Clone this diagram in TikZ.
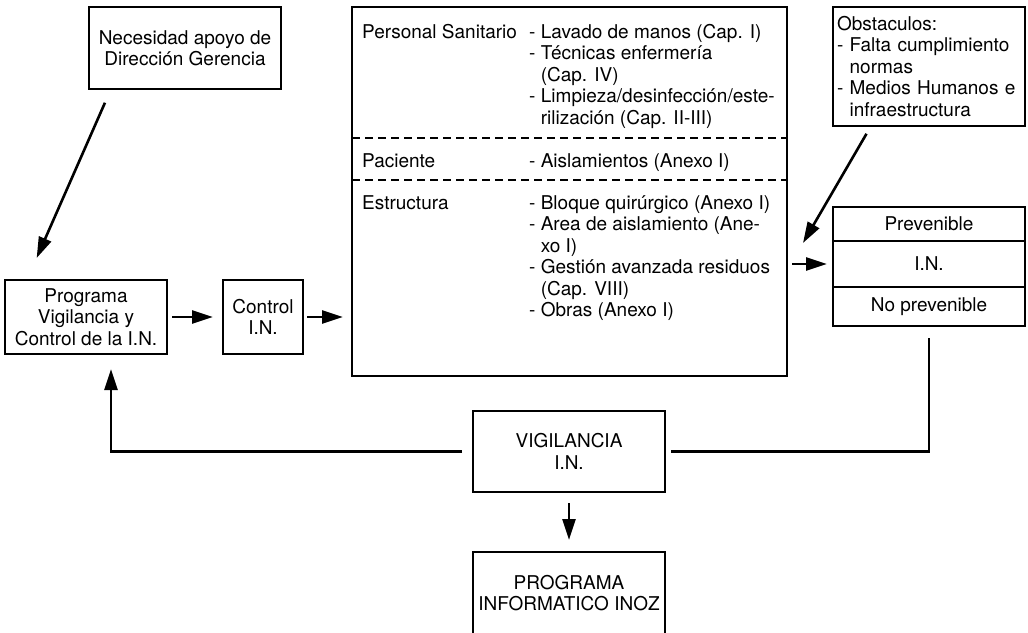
\documentclass[tikz,border=0pt]{standalone}
\usepackage{fontspec}
\setmainfont{TeX Gyre Heros}
\usetikzlibrary{positioning,calc,arrows.meta}
\newcommand\sangria{\hphantom{- }}
\begin{document}
\begin{tikzpicture}[x=1pt,y=-1pt,
    caja/.style={draw,line width=1.2pt,inner sep=0pt,outer sep=0pt,align=center,font=\fontsize{19}{21.5}\selectfont},
    texto/.style={inner sep=0pt,align=left,anchor=north west,font=\fontsize{19}{21.5}\selectfont},
    flecha/.style={line width=2.6pt,-{Triangle[length=21pt,width=13pt]}},
    linea/.style={line width=2.6pt}]
    \useasboundingbox (0,0) rectangle (1028,632);
    \clip (0,0) rectangle (1028,632);
    % cajas
    \node[caja,minimum width=192pt,minimum height=82pt] (necesidad) at (185,48) {Necesidad apoyo de\\Dirección Gerencia};
    \node[caja,minimum width=162pt,minimum height=74pt] (programa) at (86,317) {Programa\\Vigilancia y\\Control de la I.N.};
    \node[caja,minimum width=80pt,minimum height=74pt] (control) at (263,317) {Control\\I.N.};
    \node[caja,minimum width=435pt,minimum height=369pt] (medidas) at (569.5,191.5) {};
    \node[caja,text width=184pt,align=left,inner sep=4pt,minimum height=119pt] (obstaculos) at (929,66.5)
        {Obstaculos:\\- Falta cumplimiento\\\sangria normas\\- Medios Humanos e\\\sangria infraestructura};
    \node[caja,minimum width=192pt,minimum height=34pt,anchor=north] (prevenible) at (929,207) {Prevenible};
    \node[caja,minimum width=192pt,minimum height=46pt,below=0pt of prevenible] (in) {I.N.};
    \node[caja,minimum width=192pt,minimum height=39pt,below=0pt of in] (noprev) {No prevenible};
    \node[caja,minimum width=192pt,minimum height=81pt] (vigilancia) at (569,451.5) {VIGILANCIA\\I.N.};
    \node[caja,minimum width=192pt,minimum height=82pt,anchor=north] (inoz) at (569,552) {PROGRAMA\\INFORMATICO INOZ};
    % medidas de control
    \node[texto] (personal) at (362,24) {Personal Sanitario};
    \node[texto] (itemspers) at (529,24) {- Lavado de manos (Cap. I)\\- Técnicas enfermería\\\sangria(Cap. IV)\\- Limpieza/desinfección/este-\\\sangria rilización (Cap. II-III)};
    \node[texto] (paciente) at (362,153) {Paciente};
    \node[texto] (itemspac) at (529,153) {- Aislamientos (Anexo I)};
    \node[texto] (estructura) at (362,195) {Estructura};
    \node[texto] (itemsest) at (529,195) {- Bloque quirúrgico (Anexo I)\\- Area de aislamiento (Ane-\\\sangria xo I)\\- Gestión avanzada residuos\\\sangria(Cap. VIII)\\- Obras (Anexo I)};
    \foreach \y in {138,180}
        \draw[line width=1.2pt,dash pattern=on 8pt off 5pt] (352,\y) -- (787,\y);
    % conectores
    \coordinate (llegada) at ($(prevenible.west)+(-30,19)$);
    \draw[flecha,shorten <=15pt,shorten >=24pt] ($(necesidad.south west)+(22,0)$) -- ($(programa.north west)+(22,0)$);
    \draw[flecha,shorten <=5pt,shorten >=10pt] (programa.east) -- (control.west);
    \draw[flecha,shorten <=4pt,shorten >=9pt] (control.east) -- (control.east -| medidas.west);
    \draw[flecha,shorten <=5pt,shorten >=6pt] (in.west -| medidas.east) -- (in.west);
    \draw[flecha,shorten <=9pt] ($(obstaculos.south west)+(38,0)$) -- (llegada);
    \draw[linea,shorten <=12pt,shorten >=6pt] (noprev.south) |- (vigilancia.east);
    \draw[flecha,shorten <=11pt,shorten >=15pt] (vigilancia.west) -| ($(programa.south west)+(106,0)$);
    \draw[flecha,shorten <=11pt,shorten >=12pt] (vigilancia.south) -- (inoz.north);
\end{tikzpicture}
\end{document}
